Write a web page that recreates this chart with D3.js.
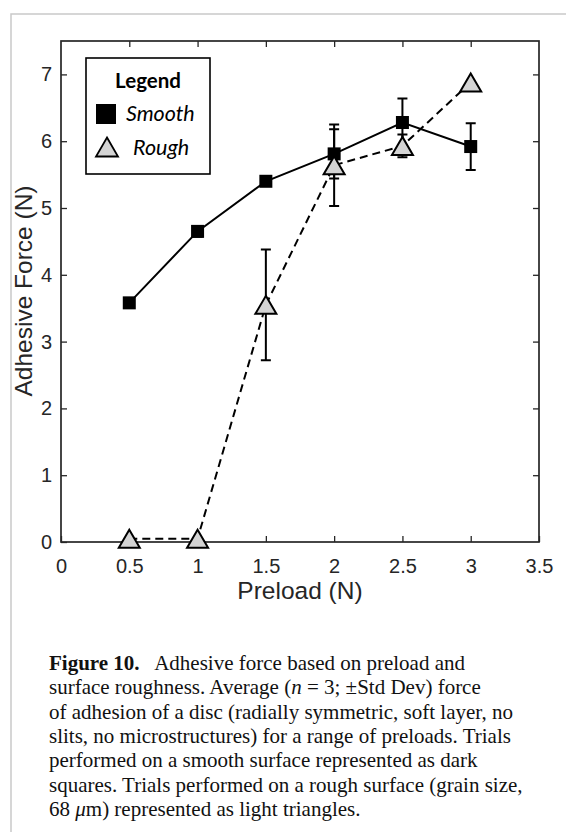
<!DOCTYPE html>
<html>
<head>
<meta charset="utf-8">
<script src="https://cdn.jsdelivr.net/npm/d3@7"></script>
<style>
	body { margin:0; background:#fff; }
	svg { display:block; }
</style>
</head>
<body>
<svg id="chart" width="566" height="832"></svg>
<script>
// data
var preload = [0.5, 1.0, 1.5, 2.0, 2.5, 3.0];
var smoothMean = [3.58, 4.65, 5.40, 5.81, 6.28, 5.92];
var smoothSd = [0, 0.08, 0, 0.37, 0.36, 0.35];
var roughMean = [0.05, 0.05, 3.55, 5.64, 5.93, 6.88];
var roughSd = [0, 0, 0.83, 0.61, 0.17, 0];
var xTicks = [0, 0.5, 1, 1.5, 2, 2.5, 3, 3.5];
var yTicks = [0, 1, 2, 3, 4, 5, 6, 7];
var captionLines = [
	"surface roughness. Average (",
	"of adhesion of a disc (radially symmetric, soft layer, no",
	"slits, no microstructures) for a range of preloads. Trials",
	"performed on a smooth surface represented as dark",
	"squares. Trials performed on a rough surface (grain size,",
	"68 "
];

var svg = d3.select("#chart");
var axisColor = "#262626";
var pLeft = 61, pRight = 539, pTop = 41, pBottom = 542;

var x = d3.scaleLinear().domain([0, 3.5]).range([pLeft, pRight]);
var y = d3.scaleLinear().domain([0, 7.5]).range([pBottom, pTop]);

// page frame
svg.append("path")
	.attr("d", "M11,832 L11,14 L566,14")
	.attr("fill", "none")
	.attr("stroke", "#c9c9c9")
	.attr("stroke-width", 1.5);

drawAxes();
drawSeries(smoothMean, smoothSd, "smooth");
drawSeries(roughMean, roughSd, "rough");
drawLegend();
drawCaption();

function drawAxes() {
	var g = svg.append("g");
	var tickLen = 6;
	g.append("g")
		.attr("transform", "translate(0," + pBottom + ")")
		.call(d3.axisBottom(x).tickValues(xTicks).tickSizeInner(-tickLen).tickSizeOuter(0).tickPadding(17)
			.tickFormat(function(d) { return d; }));
	g.append("g")
		.attr("transform", "translate(" + pLeft + ",0)")
		.call(d3.axisLeft(y).tickValues(yTicks).tickSizeInner(-tickLen).tickSizeOuter(0).tickPadding(9));
	// mirrored ticks top/right
	g.append("g")
		.attr("transform", "translate(0," + pTop + ")")
		.call(d3.axisTop(x).tickValues(xTicks.slice(1, -1)).tickSizeInner(-tickLen).tickSizeOuter(0).tickFormat(""));
	g.append("g")
		.attr("transform", "translate(" + pRight + ",0)")
		.call(d3.axisRight(y).tickValues(yTicks.slice(1)).tickSizeInner(-tickLen).tickSizeOuter(0).tickFormat(""));
	g.selectAll(".domain").remove();
	g.selectAll(".tick line").attr("stroke", axisColor).attr("stroke-width", 1.3);
	g.selectAll(".tick text")
		.attr("fill", axisColor)
		.style("font-family", "'Liberation Sans', Arial, sans-serif")
		.style("font-size", "20px");
	g.append("rect")
		.attr("x", pLeft).attr("y", pTop)
		.attr("width", pRight - pLeft).attr("height", pBottom - pTop)
		.attr("fill", "none")
		.attr("stroke", axisColor)
		.attr("stroke-width", 1.7);
	svg.append("text")
		.attr("x", (pLeft + pRight) / 2).attr("y", 599)
		.attr("text-anchor", "middle")
		.attr("fill", axisColor)
		.style("font-family", "'Liberation Sans', Arial, sans-serif")
		.style("font-size", "24.5px")
		.text("Preload (N)");
	svg.append("text")
		.attr("transform", "translate(31.5,291) rotate(-90)")
		.attr("text-anchor", "middle")
		.attr("fill", axisColor)
		.style("font-family", "'Liberation Sans', Arial, sans-serif")
		.style("font-size", "24.5px")
		.text("Adhesive Force (N)");
}

function trianglePath(w, h) {
	return "M0," + (-h / 2) + " L" + (w / 2) + "," + (h / 2) + " L" + (-w / 2) + "," + (h / 2) + " Z";
}

function drawSeries(means, sds, kind) {
	var g = svg.append("g");
	var pts = preload.map(function(p, i) { return {x:p, y:means[i], sd:sds[i]}; });
	var line = d3.line().x(function(d) { return x(d.x); }).y(function(d) { return y(d.y); });
	g.append("path")
		.attr("d", line(pts))
		.attr("fill", "none")
		.attr("stroke", "#000")
		.attr("stroke-width", 2)
		.attr("stroke-dasharray", kind == "rough" ? "8,5" : null);
	// error bars
	g.selectAll(".eb").data(pts.filter(function(d) { return d.sd > 0; }))
		.enter().append("path")
		.attr("d", function(d) {
			var cx = x(d.x), y1 = y(d.y + d.sd), y2 = y(d.y - d.sd);
			return "M" + (cx - 5) + "," + y1 + " H" + (cx + 5) +
				" M" + cx + "," + y1 + " V" + y2 +
				" M" + (cx - 5) + "," + y2 + " H" + (cx + 5);
		})
		.attr("fill", "none")
		.attr("stroke", "#000")
		.attr("stroke-width", 2);
	if(kind == "smooth") {
		g.selectAll(".m").data(pts).enter().append("rect")
			.attr("x", function(d) { return x(d.x) - 6.5; })
			.attr("y", function(d) { return y(d.y) - 6.5; })
			.attr("width", 13).attr("height", 13)
			.attr("fill", "#000");
	} else {
		g.selectAll(".m").data(pts).enter().append("path")
			.attr("transform", function(d) { return "translate(" + x(d.x) + "," + y(d.y) + ")"; })
			.attr("d", trianglePath(21, 18))
			.attr("fill", "#d4d4d4")
			.attr("stroke", "#000")
			.attr("stroke-width", 2)
			.attr("stroke-linejoin", "miter");
	}
}

function drawLegend() {
	var g = svg.append("g");
	var font = "Lato, 'Open Sans', sans-serif";
	g.append("rect")
		.attr("x", 86).attr("y", 58)
		.attr("width", 124).attr("height", 116)
		.attr("fill", "#fff")
		.attr("stroke", "#000")
		.attr("stroke-width", 1.6);
	g.append("text")
		.attr("x", 148).attr("y", 88)
		.attr("text-anchor", "middle")
		.style("font-family", font).style("font-weight", "bold").style("font-size", "20.5px")
		.text("Legend");
	g.append("rect")
		.attr("x", 96).attr("y", 104).attr("width", 20).attr("height", 20)
		.attr("fill", "#000");
	g.append("text")
		.attr("x", 126).attr("y", 121)
		.style("font-family", font).style("font-style", "italic").style("font-size", "21.5px")
		.text("Smooth");
	g.append("path")
		.attr("transform", "translate(107,147)")
		.attr("d", trianglePath(22, 19))
		.attr("fill", "#d4d4d4")
		.attr("stroke", "#000")
		.attr("stroke-width", 1.8);
	g.append("text")
		.attr("x", 133).attr("y", 155)
		.style("font-family", font).style("font-style", "italic").style("font-size", "21.5px")
		.text("Rough");
}

function drawCaption() {
	var g = svg.append("g")
		.style("font-family", "'Liberation Serif', 'DejaVu Serif', serif")
		.style("font-size", "21px")
		.attr("fill", "#111");
	var x0 = 49, y0 = 670, lh = 24.3;
	var t0 = g.append("text").attr("x", x0).attr("y", y0);
	t0.append("tspan").style("font-weight", "bold").text("Figure 10.");
	t0.append("tspan").text("\u2002 Adhesive force based on preload and");
	var t1 = g.append("text").attr("x", x0).attr("y", y0 + lh);
	t1.append("tspan").text(captionLines[0]);
	t1.append("tspan").style("font-style", "italic").text("n");
	t1.append("tspan").text(" = 3; \u00b1Std Dev) force");
	for(var i = 1; i < 5; i++) {
		g.append("text").attr("x", x0).attr("y", y0 + lh * (i + 1)).text(captionLines[i]);
	}
	var t6 = g.append("text").attr("x", x0).attr("y", y0 + lh * 6);
	t6.append("tspan").text(captionLines[5]);
	t6.append("tspan").style("font-style", "italic").text("\u03bc");
	t6.append("tspan").text("m) represented as light triangles.");
}
</script>
</body>
</html>
